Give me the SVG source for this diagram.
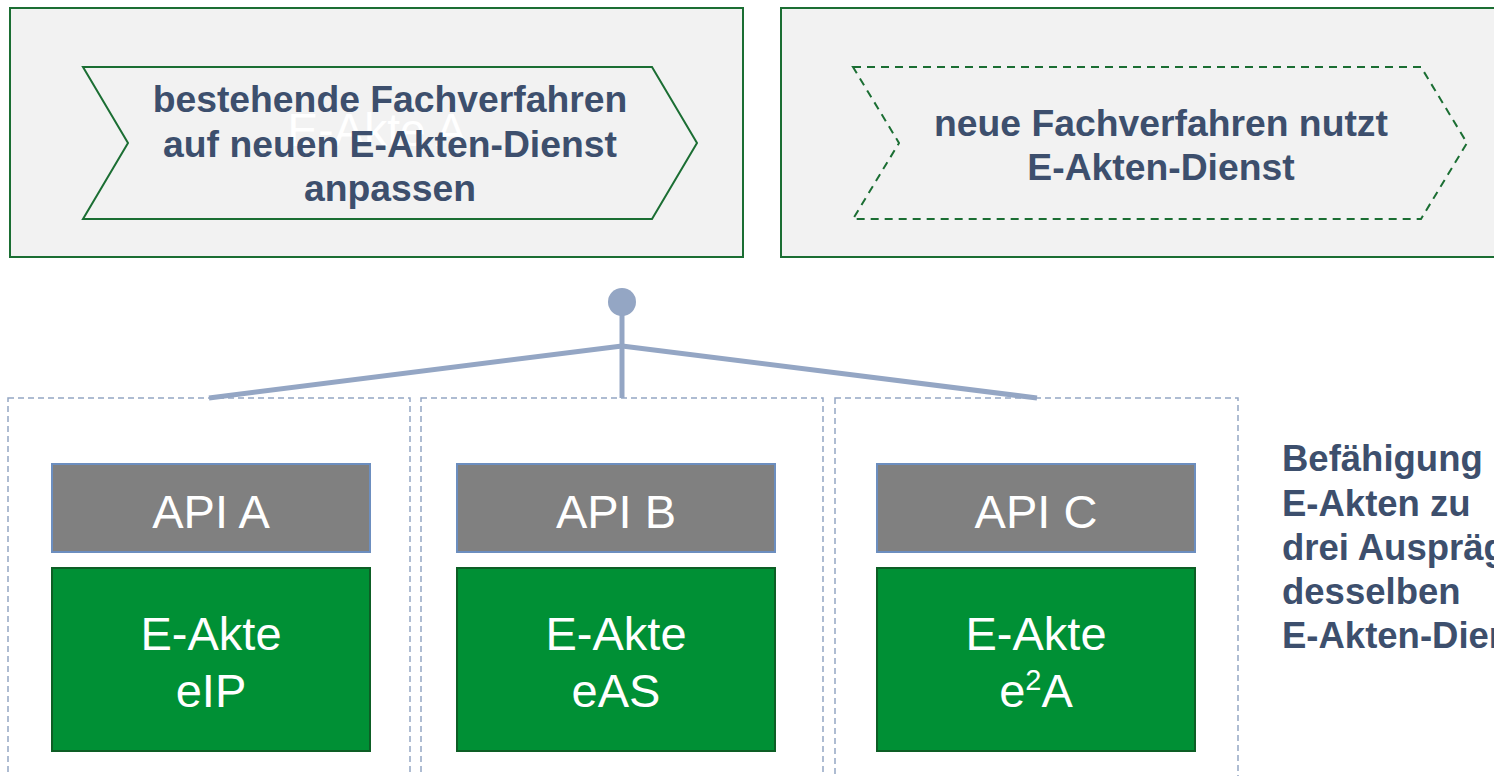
<svg xmlns="http://www.w3.org/2000/svg" width="1494" height="776" viewBox="0 0 1494 776">
<style>
.panel{fill:#f2f2f2;stroke:#1b6e33;stroke-width:2}
.chev{fill:#f2f2f2;stroke:#1b6e33;stroke-width:2}
.chevd{fill:none;stroke:#1b6e33;stroke-width:2;stroke-dasharray:8 6}
.ttl{font-family:"Liberation Sans",Arial,sans-serif;font-weight:bold;font-size:37.3px;fill:#3d4f6d}
.note{font-family:"Liberation Sans",Arial,sans-serif;font-weight:bold;font-size:36.5px;fill:#3d4f6d}
.ghost{font-family:"Liberation Sans",Arial,sans-serif;font-size:46px;fill:#ffffff}
.cont{fill:none;stroke:#94a6c4;stroke-width:1.5;stroke-dasharray:6 4}
.api{fill:#808080;stroke:#6c8ebf;stroke-width:2}
.akte{fill:#009035;stroke:#0d5e25;stroke-width:2}
.wt{font-family:"Liberation Sans",Arial,sans-serif;font-size:47px;fill:#ffffff;text-anchor:middle}
.conn{stroke:#94a6c4;stroke-width:5;fill:none}
</style>
<g id="panel-left">
<rect class="panel" x="10" y="8" width="733" height="249"/>
<polygon class="chev" points="83,67 652,67 697,143 652,219 83,219 128,143"/>
<text class="ghost" x="377" y="146" text-anchor="middle">E-Akte A</text>
<text class="ttl" text-anchor="middle"><tspan x="390" y="112">bestehende Fachverfahren</tspan><tspan x="390" y="157">auf neuen E-Akten-Dienst</tspan><tspan x="390" y="201">anpassen</tspan></text>
</g>
<g id="panel-right">
<rect class="panel" x="781" y="8" width="730" height="249"/>
<polygon class="chevd" points="853,67 1421,67 1467,143 1421,219 853,219 899,143"/>
<text class="ttl" text-anchor="middle"><tspan x="1161" y="136">neue Fachverfahren nutzt</tspan><tspan x="1161" y="180">E-Akten-Dienst</tspan></text>
</g>
<g id="connectors">
<line class="conn" x1="622" y1="302" x2="622" y2="398"/>
<line class="conn" x1="622" y1="346" x2="209" y2="398"/>
<line class="conn" x1="622" y1="346" x2="1037" y2="398"/>
<circle cx="622" cy="302" r="14" fill="#94a6c4"/>
</g>
<g id="service-a">
<rect class="cont" x="8" y="398" width="402" height="390"/>
<rect class="api" x="52" y="464" width="318" height="88"/>
<text class="wt" x="211" y="528">API A</text>
<rect class="akte" x="52" y="568" width="318" height="183"/>
<text class="wt"><tspan x="211" y="650">E-Akte</tspan><tspan x="211" y="707">eIP</tspan></text>
</g>
<g id="service-b">
<rect class="cont" x="421" y="398" width="402" height="390"/>
<rect class="api" x="457" y="464" width="318" height="88"/>
<text class="wt" x="616" y="528">API B</text>
<rect class="akte" x="457" y="568" width="318" height="183"/>
<text class="wt"><tspan x="616" y="650">E-Akte</tspan><tspan x="616" y="707">eAS</tspan></text>
</g>
<g id="service-c">
<rect class="cont" x="835" y="398" width="403" height="390"/>
<rect class="api" x="877" y="464" width="318" height="88"/>
<text class="wt" x="1036" y="528">API C</text>
<rect class="akte" x="877" y="568" width="318" height="183"/>
<text class="wt"><tspan x="1036" y="650">E-Akte</tspan><tspan x="1036" y="707">e<tspan font-size="29" dy="-17">2</tspan><tspan dy="17">A</tspan></tspan></text>
</g>
<g id="note">
<text class="note"><tspan x="1282" y="471">Befähigung</tspan><tspan x="1282" y="516">E-Akten zu</tspan><tspan x="1282" y="560">drei Ausprägungen</tspan><tspan x="1282" y="604">desselben</tspan><tspan x="1282" y="648">E-Akten-Dienstes</tspan></text>
</g>
</svg>
